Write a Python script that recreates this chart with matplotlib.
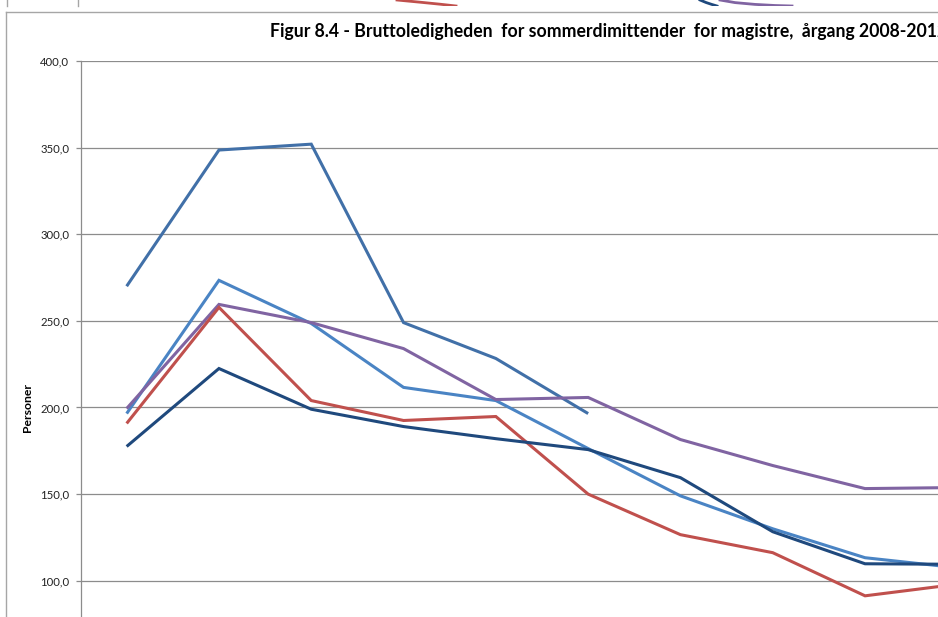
import matplotlib
matplotlib.use("Agg")
import matplotlib.pyplot as plt
from matplotlib.lines import Line2D

plt.rcParams['font.family'] = ['Lato', 'DejaVu Sans']

# months after graduation (categories), only the first ten are visible in the crop
categories = list(range(1, 13))

s_top = [270.0, 348.6, 352.0, 249.0, 228.3, 196.5]
s_light = [196.5, 273.4, 248.5, 211.6, 204.0, 176.3, 149.0, 130.0, 113.3, 107.5]
s_navy = [177.5, 222.5, 199.0, 189.0, 182.0, 175.7, 159.5, 128.3, 109.8, 109.5]
s_red = [190.8, 257.8, 204.0, 192.5, 194.8, 150.0, 126.6, 116.2, 91.3, 98.0]
s_purple = [199.4, 259.5, 249.0, 234.0, 204.6, 205.8, 181.5, 166.5, 153.2, 153.8]

series = [
    (s_top, '#4170A8'),
    (s_light, '#4A84C4'),
    (s_purple, '#8064A2'),
    (s_red, '#C0504D'),
    (s_navy, '#1F497D'),
]

# only the ticks that fall inside the crop
yticks = [100, 150, 200, 250, 300, 350, 400]
ytick_labels = ['100,0', '150,0', '200,0', '250,0', '300,0', '350,0', '400,0']

title = 'Figur 8.4 - Bruttoledigheden  for sommerdimittender  for magistre,  årgang 2008-2012'

# fragments of the chart above that show at the top edge of the crop
frag_red_x = [397, 420, 440, 456]
frag_red_y = [0.0, 2.2, 4.2, 6.0]
frag_navy_x = [700, 706, 712, 717]
frag_navy_y = [0.0, 2.5, 4.5, 6.0]
frag_purple_x = [720, 735, 755, 775, 792]
frag_purple_y = [0.0, 2.6, 4.4, 5.5, 6.0]

W, H = 938, 617
fig = plt.figure(figsize=(W / 100, H / 100), dpi=100)

# main plot area (it runs past the bottom and right edge of the crop)
step = 92.3
left_px, top_px, bottom_px = 80.5, 61, 754
ax = fig.add_axes([left_px / W, (H - bottom_px) / H, 12 * step / W, (bottom_px - top_px) / H])
ax.set_xlim(0.5, 12.5)
ax.set_ylim(0, 400)

for vals, col in series:
    ax.plot(categories[:len(vals)], vals, color=col, lw=2.2, solid_joinstyle='miter',
            solid_capstyle='butt', zorder=3)

ax.set_yticks(yticks)
ax.set_yticklabels(ytick_labels, fontsize=8.2, color='#222222')
ax.yaxis.grid(True, color='#8C8C8C', lw=0.9)
ax.set_axisbelow(True)
ax.tick_params(axis='y', length=3.5, width=0.9, color='#8C8C8C', pad=4.5)
ax.tick_params(axis='x', length=0, labelbottom=False)
for side in ['top', 'right', 'bottom']:
    ax.spines[side].set_visible(False)
ax.spines['left'].set_color('#8C8C8C')
ax.spines['left'].set_linewidth(0.9)
ax.set_ylabel('Personer', fontsize=8.8, fontweight='bold')
ax.yaxis.set_label_coords(-(80.5 - 33) / (12 * step), 0.5)

# the title runs past the right edge of the crop, as in the source
fig.text(270 / W, 1 - 31 / H, title, fontsize=12.7, fontweight='bold', ha='left', va='center')

# border of this chart object
fig.add_artist(Line2D([6 / W, 1.0], [1 - 12 / H, 1 - 12 / H], color='#A6A6A6', lw=1.0))
fig.add_artist(Line2D([6 / W, 6 / W], [0.0, 1 - 12 / H], color='#A6A6A6', lw=1.0))

# bottom strip of the chart above
ax2 = fig.add_axes([0, 1 - 6 / H, 1, 6 / H])
ax2.set_xlim(0, W)
ax2.set_ylim(6, 0)
ax2.axis('off')
ax2.plot(frag_red_x, frag_red_y, color='#C0504D', lw=2.0)
ax2.plot(frag_navy_x, frag_navy_y, color='#1F497D', lw=2.0)
ax2.plot(frag_purple_x, frag_purple_y, color='#8064A2', lw=2.0)
fig.add_artist(Line2D([7 / W, 7 / W], [1 - 6 / H, 1.0], color='#A6A6A6', lw=1.0))
fig.add_artist(Line2D([78 / W, 78 / W], [1 - 6 / H, 1.0], color='#A6A6A6', lw=1.0))

fig.savefig('out.png', dpi=100)
